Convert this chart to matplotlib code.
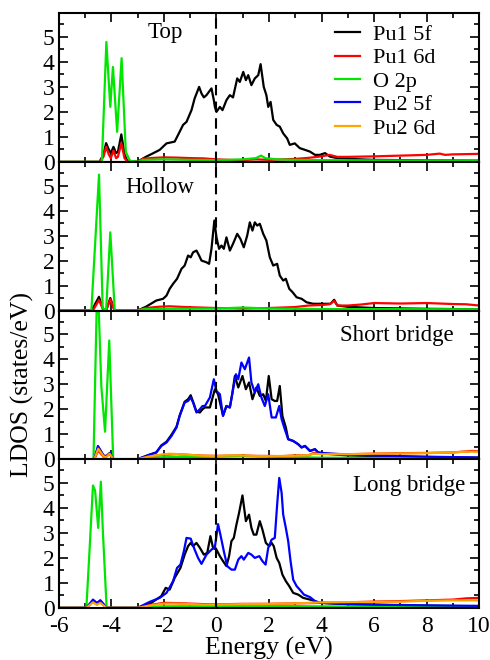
"""
LDOS panels for O adsorption sites on a Pu surface.
Four stacked panels sharing the energy axis, written to out.png.
"""

import matplotlib
matplotlib.use("Agg")
import matplotlib.pyplot as plt
from matplotlib.lines import Line2D
from matplotlib.ticker import MultipleLocator

plt.rcParams["font.family"] = ["Liberation Serif", "DejaVu Serif"]
plt.rcParams["axes.unicode_minus"] = False

# ---- data: (energy eV, LDOS) ----
series_names = ["Pu1 5f", "Pu1 6d", "O 2p", "Pu2 5f", "Pu2 6d"]
series_colors = ["#000000", "#ff0000", "#00e600", "#0000ff", "#ffa500"]
panel_titles = ["Top", "Hollow", "Short bridge", "Long bridge"]

top_pu1_5f = [(-6, 0), (-4.45, 0), (-4.3, 0.3), (-4.2, 0.75), (-4.1, 0.5), (-4.02, 0.35), (-3.92, 0.6),
              (-3.82, 0.35), (-3.75, 0.4), (-3.62, 1.1), (-3.5, 0.3), (-3.4, 0.05), (-3.0, 0),
              (-2.85, 0.1), (-2.67, 0.21), (-2.4, 0.35), (-2.16, 0.48), (-1.9, 0.74), (-1.59, 0.81),
              (-1.46, 1.08), (-1.27, 1.48), (-1.14, 1.6), (-0.95, 2.07), (-0.83, 2.54), (-0.66, 3.0),
              (-0.57, 2.74), (-0.48, 2.58), (-0.38, 2.67), (-0.19, 2.94), (-0.1, 2.47), (-0.06, 2.2),
              (0.0, 2.0), (0.13, 2.2), (0.23, 2.07), (0.38, 2.47), (0.51, 2.67), (0.63, 2.58),
              (0.79, 3.34), (0.89, 3.2), (1.02, 3.6), (1.12, 3.27), (1.21, 3.47), (1.33, 3.07),
              (1.46, 3.34), (1.59, 3.47), (1.68, 3.91), (1.8, 3.0), (1.9, 2.67), (1.97, 2.2),
              (2.06, 2.4), (2.16, 1.68), (2.29, 1.48), (2.41, 1.41), (2.54, 1.14), (2.69, 0.94),
              (2.79, 0.68), (2.98, 0.74), (3.17, 0.55), (3.37, 0.48), (3.56, 0.41), (3.75, 0.28),
              (3.94, 0.28), (4.13, 0.35), (4.32, 0.21), (4.6, 0.15), (5.0, 0.12), (6, 0.08),
              (8, 0.06), (10, 0.05)]
top_pu1_6d = [(-6, 0), (-4.45, 0), (-4.3, 0.2), (-4.2, 0.6), (-4.1, 0.3), (-4.02, 0.15), (-3.92, 0.45),
              (-3.82, 0.15), (-3.75, 0.2), (-3.62, 0.75), (-3.5, 0.15), (-3.4, 0.02), (-3.0, 0),
              (-2.8, 0.12), (-2.4, 0.16), (-2.0, 0.18), (-1.5, 0.17), (-1.0, 0.15), (-0.5, 0.14),
              (0, 0.1), (0.5, 0.08), (1.0, 0.07), (1.5, 0.1), (2.0, 0.08), (2.5, 0.1), (3.0, 0.12),
              (3.5, 0.16), (4.0, 0.22), (4.3, 0.28), (4.6, 0.2), (5.0, 0.2), (6.0, 0.22), (7.0, 0.25),
              (8.0, 0.28), (8.5, 0.33), (8.7, 0.28), (9.0, 0.3), (10, 0.32)]
top_o_2p = [(-6, 0), (-4.36, 0), (-4.19, 4.8), (-4.04, 2.2), (-3.94, 3.8), (-3.78, 1.2), (-3.61, 4.15),
            (-3.45, 0.4), (-3.3, 0.05), (-3.0, 0), (-2.8, 0.08), (-2.0, 0.1), (-1.0, 0.08), (0, 0.07),
            (0.5, 0.08), (1.0, 0.1), (1.5, 0.15), (1.7, 0.25), (1.85, 0.15), (2.3, 0.1), (3, 0.08),
            (4, 0.07), (6, 0.06), (10, 0.05)]

hol_pu1_5f = [(-6, 0), (-4.75, 0), (-4.47, 0.55), (-4.3, 0), (-4.2, 0), (-4.04, 0.5), (-3.88, 0),
              (-3.0, 0), (-2.67, 0.16), (-2.29, 0.4), (-2.03, 0.47), (-1.9, 0.6), (-1.78, 0.87),
              (-1.65, 1.07), (-1.5, 1.27), (-1.33, 1.67), (-1.21, 1.8), (-1.08, 2.2), (-0.98, 2.13),
              (-0.89, 2.33), (-0.76, 2.4), (-0.66, 2.2), (-0.57, 2.0), (-0.38, 1.93), (-0.28, 1.87),
              (-0.19, 2.47), (-0.08, 3.6), (0.0, 2.93), (0.1, 2.47), (0.19, 2.6), (0.28, 2.47),
              (0.38, 2.93), (0.51, 2.4), (0.63, 2.67), (0.79, 3.07), (0.91, 2.87), (1.04, 2.53),
              (1.17, 3.0), (1.27, 3.53), (1.37, 3.2), (1.46, 3.53), (1.55, 3.4), (1.65, 3.47),
              (1.78, 3.07), (1.9, 2.8), (2.03, 2.13), (2.16, 1.8), (2.31, 1.87), (2.41, 1.4),
              (2.54, 1.2), (2.64, 1.27), (2.77, 0.87), (2.9, 0.73), (3.05, 0.53), (3.24, 0.47),
              (3.43, 0.33), (3.68, 0.27), (3.94, 0.27), (4.19, 0.27), (4.34, 0.27), (4.48, 0.43),
              (4.6, 0.2), (5.0, 0.15), (6, 0.1), (8, 0.07), (10, 0.05)]
hol_pu1_6d = [(-6, 0), (-4.7, 0), (-4.47, 0.42), (-4.3, 0), (-4.2, 0), (-4.04, 0.45), (-3.88, 0),
              (-3.0, 0), (-2.7, 0.1), (-2.2, 0.15), (-1.8, 0.17), (-1.2, 0.14), (-0.6, 0.12), (0, 0.1),
              (1.0, 0.08), (2.0, 0.1), (3.0, 0.14), (3.5, 0.2), (4.0, 0.22), (4.3, 0.25), (4.48, 0.38),
              (4.6, 0.2), (5.0, 0.2), (5.5, 0.24), (6.0, 0.3), (7.0, 0.28), (8.0, 0.3), (9.0, 0.26),
              (9.5, 0.25), (10, 0.2)]
hol_o_2p = [(-6, 0), (-4.76, 0), (-4.47, 5.44), (-4.33, 0.1), (-4.2, 0), (-4.04, 3.13), (-3.87, 0),
            (-3.0, 0), (-2.8, 0.05), (-2, 0.07), (0, 0.08), (1.0, 0.12), (2.0, 0.08), (4, 0.06),
            (10, 0.05)]

sb_pu1_5f = [(-6, 0), (-4.65, 0), (-4.5, 0.48), (-4.3, 0.15), (-4.2, 0.1), (-4.06, 0.25), (-3.93, 0),
             (-3.0, 0), (-2.6, 0.16), (-2.29, 0.27), (-2.1, 0.55), (-1.9, 0.7), (-1.71, 0.98),
             (-1.52, 1.3), (-1.4, 1.75), (-1.21, 2.3), (-1.08, 2.4), (-0.98, 2.56), (-0.89, 2.3),
             (-0.76, 1.9), (-0.63, 1.87), (-0.53, 2.0), (-0.44, 2.07), (-0.25, 2.07), (-0.06, 2.8),
             (0.06, 2.6), (0.25, 1.75), (0.38, 2.13), (0.51, 2.07), (0.6, 2.6), (0.7, 3.33),
             (0.83, 2.87), (0.99, 3.33), (1.12, 2.8), (1.24, 3.07), (1.37, 2.4), (1.52, 2.87),
             (1.65, 2.53), (1.78, 2.6), (1.88, 2.33), (1.99, 3.33), (2.1, 2.4), (2.22, 2.33),
             (2.31, 2.33), (2.41, 2.93), (2.51, 1.73), (2.64, 1.27), (2.73, 0.8), (2.92, 0.73),
             (3.11, 0.6), (3.24, 0.47), (3.37, 0.53), (3.56, 0.33), (3.75, 0.4), (3.87, 0.27),
             (4.13, 0.22), (5, 0.15), (7, 0.1), (10, 0.06)]
sb_pu1_6d = [(-6, 0), (-4.65, 0), (-4.5, 0.35), (-4.3, 0.1), (-4.06, 0.2), (-3.93, 0), (-3.0, 0),
             (-2.6, 0.1), (-2.0, 0.18), (-1.5, 0.2), (-1.0, 0.17), (-0.5, 0.14), (0, 0.13), (0.5, 0.14),
             (1.0, 0.15), (1.5, 0.13), (2, 0.13), (2.5, 0.12), (3, 0.15), (3.5, 0.15), (3.7, 0.25),
             (4, 0.22), (5, 0.2), (6, 0.22), (7, 0.24), (8, 0.25), (9, 0.27), (9.7, 0.33), (10, 0.32)]
sb_o_2p = [(-6, 0), (-4.68, 0), (-4.53, 7.5), (-4.38, 2.9), (-4.24, 1.1), (-4.08, 4.75), (-3.93, 0),
           (-3.0, 0), (-2.6, 0.05), (-2, 0.08), (0, 0.1), (1, 0.12), (2, 0.1), (3, 0.08), (4, 0.06),
           (10, 0.04)]
sb_pu2_5f = [(-6, 0), (-4.65, 0), (-4.51, 0.53), (-4.3, 0.15), (-4.2, 0.1), (-4.05, 0.25), (-3.93, 0),
             (-3.0, 0), (-2.6, 0.16), (-2.29, 0.27), (-2.1, 0.53), (-1.9, 0.67), (-1.71, 0.93),
             (-1.52, 1.27), (-1.4, 1.73), (-1.21, 2.27), (-1.08, 2.33), (-0.98, 2.47), (-0.89, 2.27),
             (-0.76, 1.87), (-0.63, 2.0), (-0.53, 2.13), (-0.44, 2.13), (-0.25, 2.47), (-0.1, 3.2),
             (0, 2.73), (0.13, 2.6), (0.25, 1.73), (0.38, 2.13), (0.51, 2.07), (0.61, 2.67),
             (0.74, 3.4), (0.83, 3.2), (0.95, 3.87), (1.08, 3.6), (1.24, 4.07), (1.33, 3.07),
             (1.46, 2.67), (1.59, 3.0), (1.71, 2.47), (1.84, 2.13), (1.97, 2.6), (2.1, 1.67),
             (2.26, 1.67), (2.39, 2.13), (2.48, 1.6), (2.6, 1.2), (2.73, 0.8), (2.92, 0.73),
             (3.11, 0.6), (3.24, 0.47), (3.37, 0.53), (3.56, 0.33), (3.75, 0.4), (3.87, 0.27),
             (4.13, 0.24), (5.0, 0.18), (6, 0.15), (8, 0.1), (10, 0.07)]
sb_pu2_6d = [(-6, 0), (-4.65, 0), (-4.5, 0.42), (-4.3, 0.12), (-4.2, 0.08), (-4.06, 0.22), (-3.93, 0),
             (-3.0, 0), (-2.6, 0.1), (-2.2, 0.17), (-1.8, 0.22), (-1.4, 0.2), (-1.0, 0.17), (-0.5, 0.14),
             (0, 0.13), (0.5, 0.15), (1.0, 0.15), (1.5, 0.13), (2.0, 0.12), (2.5, 0.13), (3.0, 0.14),
             (3.5, 0.16), (3.7, 0.22), (4, 0.2), (5, 0.2), (6, 0.22), (7, 0.23), (8, 0.24), (9, 0.27),
             (9.5, 0.3), (10, 0.3)]

lb_pu1_5f = [(-6, 0), (-4.95, 0), (-4.7, 0.25), (-4.55, 0.18), (-4.42, 0.25), (-4.18, 0), (-3.0, 0),
             (-2.48, 0.2), (-2.1, 0.47), (-1.93, 0.8), (-1.78, 0.73), (-1.59, 1.2), (-1.37, 1.6),
             (-1.21, 2.13), (-1.08, 2.47), (-0.98, 2.6), (-0.89, 2.47), (-0.76, 2.6), (-0.63, 2.4),
             (-0.48, 2.13), (-0.35, 2.2), (-0.23, 2.87), (-0.13, 2.4), (0, 2.33), (0.13, 2.07),
             (0.25, 1.87), (0.38, 1.67), (0.48, 2.07), (0.57, 2.67), (0.66, 2.8), (0.76, 3.33),
             (0.86, 3.8), (0.99, 4.5), (1.12, 3.47), (1.24, 3.73), (1.33, 3.2), (1.42, 2.93),
             (1.52, 2.93), (1.65, 3.47), (1.75, 3.13), (1.88, 2.6), (2.01, 2.47), (2.1, 2.6),
             (2.18, 2.47), (2.29, 2.0), (2.39, 1.8), (2.51, 1.33), (2.64, 1.07), (2.77, 0.87),
             (2.92, 0.6), (3.11, 0.53), (3.3, 0.4), (3.56, 0.33), (3.75, 0.27), (3.94, 0.2),
             (4.2, 0.18), (5, 0.15), (7, 0.1), (10, 0.06)]
lb_pu1_6d = [(-6, 0), (-4.95, 0), (-4.7, 0.25), (-4.55, 0.15), (-4.42, 0.3), (-4.18, 0), (-3.0, 0),
             (-2.5, 0.12), (-2.0, 0.2), (-1.5, 0.19), (-1.0, 0.17), (-0.5, 0.15), (0, 0.14), (0.5, 0.15),
             (1, 0.16), (2, 0.16), (3, 0.18), (4, 0.2), (5, 0.22), (6, 0.25), (7, 0.27), (8, 0.3),
             (9, 0.33), (9.5, 0.38), (10, 0.4)]
lb_o_2p = [(-6, 0), (-4.95, 0), (-4.82, 2.5), (-4.7, 4.9), (-4.62, 4.7), (-4.5, 3.2), (-4.4, 5.05),
           (-4.32, 3.0), (-4.18, 0), (-3.0, 0), (-2.6, 0.04), (-2, 0.06), (0, 0.07), (1, 0.08),
           (2, 0.08), (4, 0.06), (10, 0.04)]
lb_pu2_5f = [(-6, 0), (-4.95, 0), (-4.7, 0.33), (-4.55, 0.2), (-4.42, 0.3), (-4.18, 0), (-3.0, 0),
             (-2.54, 0.24), (-2.16, 0.4), (-1.9, 0.6), (-1.65, 1.07), (-1.5, 1.6), (-1.37, 1.73),
             (-1.24, 2.27), (-1.14, 2.8), (-0.98, 2.77), (-0.83, 2.33), (-0.7, 2.0), (-0.57, 1.76),
             (-0.38, 2.13), (-0.19, 2.33), (-0.06, 2.43), (0.06, 3.35), (0.15, 2.93), (0.28, 2.27),
             (0.41, 1.67), (0.57, 1.53), (0.7, 1.53), (0.83, 1.93), (0.95, 2.07), (1.04, 1.93),
             (1.21, 2.2), (1.33, 2.13), (1.46, 2.0), (1.63, 2.07), (1.75, 1.87), (1.87, 1.73),
             (1.97, 2.4), (2.1, 2.73), (2.22, 2.8), (2.31, 4.13), (2.39, 5.2), (2.48, 4.6),
             (2.54, 3.73), (2.64, 3.2), (2.73, 2.67), (2.82, 1.87), (2.92, 1.13), (3.05, 0.87),
             (3.17, 0.73), (3.33, 0.53), (3.56, 0.43), (3.75, 0.27), (3.94, 0.2), (4.2, 0.2),
             (5, 0.15), (6, 0.13), (8, 0.1), (10, 0.08)]
lb_pu2_6d = [(-6, 0), (-4.95, 0), (-4.7, 0.22), (-4.55, 0.12), (-4.42, 0.2), (-4.18, 0), (-3.0, 0),
             (-2.5, 0.1), (-2.0, 0.17), (-1.5, 0.17), (-1.0, 0.15), (-0.5, 0.13), (0, 0.13),
             (0.5, 0.14), (1, 0.15), (2, 0.16), (3, 0.18), (4, 0.22), (5, 0.23), (6, 0.24), (7, 0.25),
             (7.6, 0.27), (8, 0.28), (9, 0.3), (10, 0.3)]

# one row per panel, one entry per series (None = not in that panel)
panels = [
    [top_pu1_5f, top_pu1_6d, top_o_2p, None, None],
    [hol_pu1_5f, hol_pu1_6d, hol_o_2p, None, None],
    [sb_pu1_5f, sb_pu1_6d, sb_o_2p, sb_pu2_5f, sb_pu2_6d],
    [lb_pu1_5f, lb_pu1_6d, lb_o_2p, lb_pu2_5f, lb_pu2_6d],
]

fig, axes = plt.subplots(4, 1, figsize=(4.9, 6.6), dpi=100, sharex=True)
fig.subplots_adjust(left=0.12, right=0.978, top=0.980, bottom=0.079, hspace=0)

for ax, curves, title in zip(axes, panels, panel_titles):
    for data, color in zip(curves, series_colors):
        if data is None:
            continue
        xs = [p[0] for p in data]
        ys = [p[1] for p in data]
        ax.plot(xs, ys, color=color, linewidth=1.6)
    ax.axvline(0, color="black", linestyle=(0, (5, 3)), linewidth=1.5)
    ax.set_xlim(-6, 10)
    ax.set_ylim(0, 5.95)
    ax.xaxis.set_major_locator(MultipleLocator(2))
    ax.xaxis.set_minor_locator(MultipleLocator(1))
    ax.yaxis.set_major_locator(MultipleLocator(1))
    ax.yaxis.set_minor_locator(MultipleLocator(0.5))
    ax.tick_params(which="both", direction="in", top=True, right=True, width=1.2, labelsize=17, pad=3)
    ax.tick_params(axis="x", pad=6)
    ax.tick_params(which="major", length=6.5)
    ax.tick_params(which="minor", length=3.5)
    for sp in ax.spines.values():
        sp.set_linewidth(1.5)

axes[0].text(0.212, 0.872, "Top", transform=axes[0].transAxes, fontsize=16.5, va="center", ha="left")
axes[1].text(0.157, 0.83, "Hollow", transform=axes[1].transAxes, fontsize=16.5, va="center", ha="left")
axes[2].text(0.938, 0.83, "Short bridge", transform=axes[2].transAxes, fontsize=16.5,
             va="center", ha="right")
axes[3].text(0.967, 0.82, "Long bridge", transform=axes[3].transAxes, fontsize=16.5,
             va="center", ha="right")

handles = [Line2D([], [], color=c, linewidth=1.6) for c in series_colors]
axes[0].legend(handles, series_names, loc="upper left", bbox_to_anchor=(0.657, 0.925), frameon=False,
               fontsize=16, handlelength=1.13, handletextpad=0.58, labelspacing=0.13,
               borderpad=0, borderaxespad=0)

axes[3].set_xlabel("Energy (eV)", fontsize=18.5, labelpad=0)
fig.text(0.045, 0.418, "LDOS (states/eV)", rotation=90, fontsize=18.5, ha="center", va="center")

fig.savefig("out.png", dpi=100)
